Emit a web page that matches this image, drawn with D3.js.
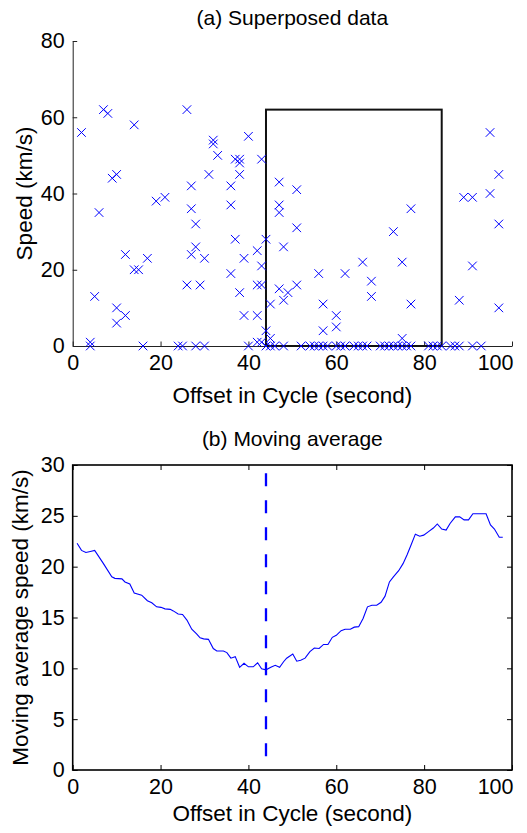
<!DOCTYPE html>
<html>
<head>
<meta charset="utf-8">
<script src="https://cdn.jsdelivr.net/npm/d3@7"></script>
<style>
  body { margin: 0; background: #fff; }
  text { font-family: "Liberation Sans", Arial, Helvetica, sans-serif; }
</style>
</head>
<body>
<svg id="chart"></svg>
<script>
// (a) superposed data: offset in cycle (s) and speed (km/s)
let scatterOffset = [2, 7, 8, 14, 26, 6, 9, 10, 19, 21, 27, 27, 28, 31, 32, 32, 33,
  27, 28, 30, 26, 29, 5, 4, 4, 12, 14, 15, 17, 10, 12, 10, 16, 24, 25, 28, 30,
  40, 37, 38, 38, 43, 38, 36, 36, 47, 51, 47, 47, 51, 37, 44, 39, 42, 43, 48, 36, 38, 42, 43,
  39, 42, 45, 47, 48, 49, 51, 44, 45, 43, 42, 40,
  44, 45, 46, 48, 52, 54, 55, 56, 57, 58, 60, 61, 62, 64, 65, 66, 67,
  56, 62, 57, 57, 60, 60, 66,
  95, 97, 95, 89, 91, 97, 91, 88, 97, 77, 73, 75, 68, 68, 77, 75,
  70, 71, 72, 73, 74, 75, 76, 77, 81, 82, 83, 84, 86, 87, 88, 91, 93]
let scatterSpeed = [56, 62, 61, 58, 62, 35, 44, 45, 38, 39, 42, 36, 32, 45, 54, 53, 50,
  24, 26, 23, 16, 16, 13, 0, 1, 24, 20, 20, 23, 10, 8, 6, 0, 0, 0, 0, 0,
  55, 49, 49, 48, 49, 45, 42, 37, 43, 41, 37, 35, 31, 28, 28, 23, 25, 21, 26, 19, 14, 16, 16,
  8, 8, 11, 15, 12, 14, 16, 4, 2, 1, 1, 0,
  0, 0, 0, 0, 0, 0, 0, 0, 0, 0, 0, 0, 0, 0, 0, 0, 0,
  19, 19, 11, 4, 8, 5, 22,
  56, 45, 40, 39, 39, 32, 21, 12, 10, 36, 30, 22, 17, 13, 11, 2,
  0, 0, 0, 0, 0, 0, 0, 0, 0, 0, 0, 0, 0, 0, 0, 0, 0]

// selected window drawn as a box: offset 44..84 s, speed 0..62
let windowOffset = [44, 84]
let windowSpeed = [0, 62]

// (b) moving average speed
let maOffset = [1, 2, 3, 4, 5, 7, 8.9, 9.6, 11.2, 11.9, 13, 14, 15.7, 17, 18, 19.1, 20.1, 21, 22.2, 22.9,
  24, 25, 26, 27.1, 28.2, 29, 29.8, 30.9, 32, 32.8, 34.3, 35.1, 36, 37, 38, 39, 40, 41.1, 42.1, 43,
  44, 45.1, 46.1, 47.1, 48, 48.7, 50.1, 51, 51.9, 52.9, 54, 55, 56.1, 57.1, 58.1, 59.1, 60, 61.1, 62, 63.2,
  64.1, 65.1, 66.1, 67.1, 68.1, 69.2, 70.2, 71.1, 72.1, 73, 74.2, 75.2, 76.1, 77, 78, 79, 79.9, 81, 82.1, 83,
  84, 85, 85.9, 87.1, 88.1, 89.1, 90.1, 91.1, 92.4, 94.1, 95.1, 96, 97.1, 97.9]
let maSpeed = [22.3, 21.6, 21.4, 21.5, 21.6, 20.3, 19.0, 18.85, 18.8, 18.5, 18.3, 17.4, 17.2, 16.65, 16.45, 16.05, 16.0, 15.85, 15.8, 15.65,
  15.35, 15.3, 14.75, 13.85, 13.4, 13.0, 12.9, 12.85, 11.95, 11.7, 11.7, 11.55, 11.0, 11.15, 10.1, 10.5, 10.15, 10.15, 10.55, 9.95,
  9.85, 10.1, 10.3, 10.1, 10.65, 11.0, 11.4, 10.7, 10.8, 11.0, 11.65, 12.0, 11.95, 12.35, 12.35, 13.05, 13.25, 13.7, 13.85, 13.85,
  14.05, 14.1, 14.9, 16.05, 16.2, 16.2, 16.5, 17.1, 18.5, 19.0, 19.6, 20.3, 21.15, 22.1, 23.2, 23.0, 23.1, 23.45, 23.8, 24.2,
  23.7, 23.6, 24.25, 24.9, 24.9, 24.6, 24.6, 25.2, 25.2, 25.2, 24.1, 23.7, 22.9, 22.9]

// dashed marker at the chosen offset
let cutOffset = 44
let cutSpeed = [1, 29.2]

let xTicks = [0, 20, 40, 60, 80, 100]
let yTicksA = [0, 20, 40, 60, 80]
let yTicksB = [0, 5, 10, 15, 20, 25, 30]

const width = 527, height = 833
const blue = "#0000ff"
const tickFont = 21.5
const labelFont = 22.5
const titleFont = 21

const svg = d3.select("#chart")
  .attr("width", width)
  .attr("height", height)
  .attr("viewBox", [0, 0, width, height])

const left = 72.7, right = 512

// ---------- panel (a) ----------
const xA = d3.scaleLinear().domain([0, 100]).range([left, right])
const yA = d3.scaleLinear().domain([0, 80]).range([346, 41])

const gA = svg.append("g")

gA.append("g")
  .attr("transform", `translate(0,${yA(0)})`)
  .call(d3.axisBottom(xA).tickValues(xTicks).tickSize(-4.5).tickSizeOuter(0).tickPadding(9))
  .call(g => g.select(".domain").attr("stroke", "#222"))
  .call(g => g.selectAll(".tick line").attr("stroke", "#222"))
  .call(g => g.selectAll(".tick text").attr("font-size", tickFont).attr("fill", "#000"))
  .call(g => g.select(".tick:last-of-type text").attr("text-anchor", "end").attr("dx", 1))

gA.append("g")
  .attr("transform", `translate(${left},0)`)
  .call(d3.axisLeft(yA).tickValues(yTicksA).tickSize(-4.5).tickSizeOuter(0).tickPadding(8))
  .call(g => g.select(".domain").attr("stroke", "#222"))
  .call(g => g.selectAll(".tick line").attr("stroke", "#222"))
  .call(g => g.selectAll(".tick text").attr("font-size", tickFont).attr("fill", "#000"))

// window box
gA.append("rect")
  .attr("x", xA(windowOffset[0]))
  .attr("y", yA(windowSpeed[1]))
  .attr("width", xA(windowOffset[1]) - xA(windowOffset[0]))
  .attr("height", yA(windowSpeed[0]) - yA(windowSpeed[1]))
  .attr("fill", "none")
  .attr("stroke", "#111")
  .attr("stroke-width", 2)

// x markers
const m = 4.3
gA.append("g")
  .selectAll("path")
  .data(d3.range(scatterOffset.length))
  .join("path")
    .attr("d", i => {
      const cx = xA(scatterOffset[i]), cy = yA(scatterSpeed[i])
      return `M${cx - m},${cy - m}L${cx + m},${cy + m}M${cx - m},${cy + m}L${cx + m},${cy - m}`
    })
    .attr("stroke", blue)
    .attr("stroke-width", 1)
    .attr("fill", "none")

gA.append("text")
  .attr("x", (left + right) / 2)
  .attr("y", 25)
  .attr("text-anchor", "middle")
  .attr("font-size", titleFont)
  .text("(a) Superposed data")

gA.append("text")
  .attr("x", (left + right) / 2)
  .attr("y", 403)
  .attr("text-anchor", "middle")
  .attr("font-size", labelFont)
  .text("Offset in Cycle (second)")

gA.append("text")
  .attr("transform", `translate(32,${(yA(0) + yA(80)) / 2}) rotate(-90)`)
  .attr("text-anchor", "middle")
  .attr("font-size", labelFont)
  .text("Speed (km/s)")

// ---------- panel (b) ----------
const xB = d3.scaleLinear().domain([0, 100]).range([left, right])
const yB = d3.scaleLinear().domain([0, 30]).range([770, 465])

const gB = svg.append("g")

const styleAxis = (g, hideText) => {
  g.select(".domain").remove()
  g.selectAll(".tick line").attr("stroke", "#000")
  g.selectAll(".tick text").attr("font-size", tickFont).attr("fill", "#000")
  if (hideText) g.selectAll(".tick text").remove()
}

gB.append("g")
  .attr("transform", `translate(0,${yB(0)})`)
  .call(d3.axisBottom(xB).tickValues(xTicks).tickSize(-5).tickPadding(9))
  .call(g => styleAxis(g, false))
  .call(g => g.select(".tick:last-of-type text").attr("text-anchor", "end").attr("dx", 1))

gB.append("g")
  .attr("transform", `translate(0,${yB(30)})`)
  .call(d3.axisTop(xB).tickValues(xTicks).tickSize(-5))
  .call(g => styleAxis(g, true))

gB.append("g")
  .attr("transform", `translate(${left},0)`)
  .call(d3.axisLeft(yB).tickValues(yTicksB).tickSize(-5).tickPadding(8))
  .call(g => styleAxis(g, false))

gB.append("g")
  .attr("transform", `translate(${right},0)`)
  .call(d3.axisRight(yB).tickValues(yTicksB).tickSize(-5))
  .call(g => styleAxis(g, true))

gB.append("rect")
  .attr("x", xB(0))
  .attr("y", yB(30))
  .attr("width", xB(100) - xB(0))
  .attr("height", yB(0) - yB(30))
  .attr("fill", "none")
  .attr("stroke", "#000")
  .attr("stroke-width", 1.6)

const line = d3.line()
  .x(i => xB(maOffset[i]))
  .y(i => yB(maSpeed[i]))

gB.append("path")
  .datum(d3.range(maOffset.length))
  .attr("d", line)
  .attr("fill", "none")
  .attr("stroke", blue)
  .attr("stroke-width", 1.1)

gB.append("line")
  .attr("x1", xB(cutOffset))
  .attr("x2", xB(cutOffset))
  .attr("y1", yB(cutSpeed[1]))
  .attr("y2", yB(cutSpeed[0]))
  .attr("stroke", blue)
  .attr("stroke-width", 2.3)
  .attr("stroke-dasharray", "13,14")

gB.append("text")
  .attr("x", (left + right) / 2)
  .attr("y", 446)
  .attr("text-anchor", "middle")
  .attr("font-size", titleFont)
  .text("(b) Moving average")

gB.append("text")
  .attr("x", (left + right) / 2)
  .attr("y", 821)
  .attr("text-anchor", "middle")
  .attr("font-size", labelFont)
  .text("Offset in Cycle (second)")

gB.append("text")
  .attr("transform", `translate(28,${(yB(0) + yB(30)) / 2}) rotate(-90)`)
  .attr("text-anchor", "middle")
  .attr("font-size", labelFont)
  .text("Moving average speed (km/s)")
</script>
</body>
</html>
